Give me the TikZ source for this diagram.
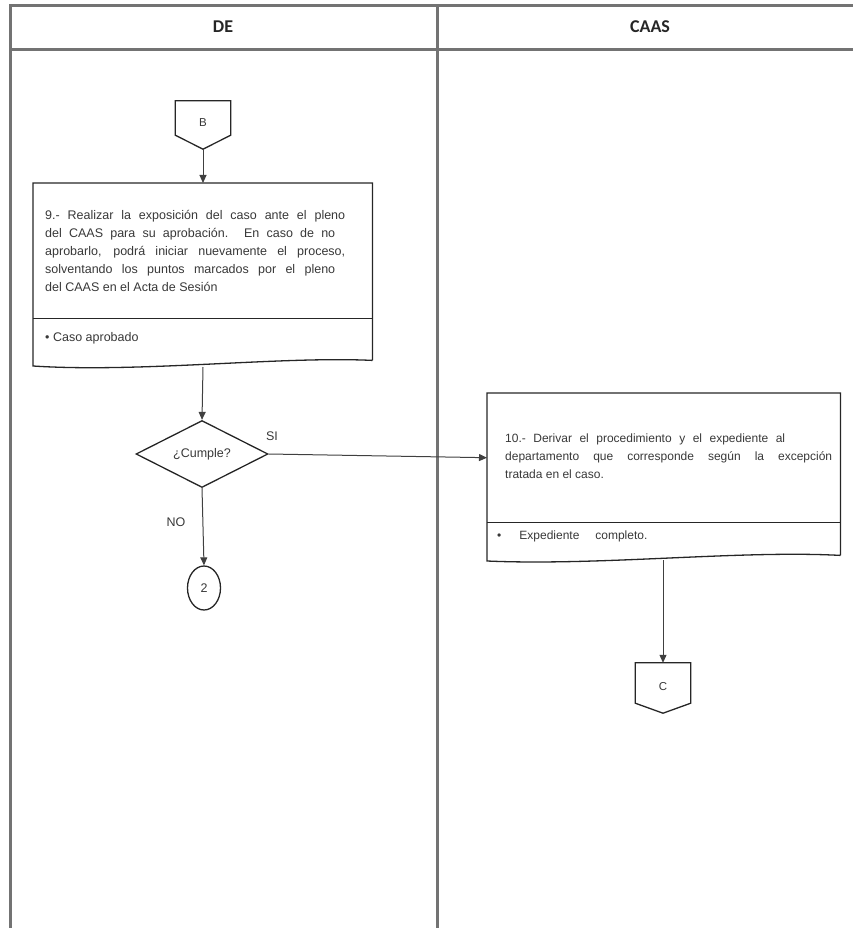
\documentclass[tikz,border=0pt]{standalone}
\usepackage{fontspec}
\setmainfont{Liberation Sans}
\newfontfamily\headfont{Carlito}
\usetikzlibrary{shapes.geometric,arrows.meta}

% one justified line of a given width
\newcommand{\jline}[2]{\makebox[#1][s]{#2}}

\begin{document}
\begin{tikzpicture}[x=1pt,y=-1pt,
  lane/.style={line width=3pt, draw=black!55},
  head/.style={font=\headfont\bfseries\fontsize{18}{20}\selectfont, text=black!85},
  txt/.style={font=\fontsize{12}{18}\selectfont, text=black!78, inner sep=0},
  bigtxt/.style={font=\fontsize{12.5}{18}\selectfont, text=black!78, inner sep=0},
  region/.style={draw=none, inner sep=0, anchor=north west},
  body/.style={align=left, anchor=west},
  shapeline/.style={draw=black!85, line width=1.3pt},
  conn/.style={font=\fontsize{11.5}{14}\selectfont, text=black!78, draw=none,
    minimum width=55, minimum height=48, inner sep=0},
  flow/.style={draw=black!75, line width=1pt, -{Triangle[length=8pt,width=7pt]}},
]
\useasboundingbox (0,0) rectangle (853,928);

% swimlane frame
\draw[lane] (853,5.5) -- (10.5,5.5) -- (10.5,928);
\draw[lane] (10.5,49.5) -- (853,49.5);
\draw[lane] (437,5.5) -- (437,928);
\node[head] (hde) at (223,27) {DE};
\node[head] (hcaas) at (650,27) {CAAS};

% off-page connector B
\node[conn] (B) at (203,125) {\raisebox{4pt}{B}};
\draw[shapeline] (B.north west) -- (B.north east) -- ([yshift=14pt]B.south east)
  -- (B.south) -- ([yshift=14pt]B.south west) -- cycle;

% step 9 (document shape)
\node[region, minimum width=339, minimum height=135] (s9) at (33,183) {};
\node[region, minimum width=339, minimum height=42] (s9b) at (33,318) {};
\draw[shapeline] (s9b.south east) -- (s9.north east) -- (s9.north west) -- (33,366)
  .. controls (140,373) and (280,356) .. (s9b.south east);
\draw[shapeline] (s9.south west) -- (s9.south east);
\node[bigtxt, body] (t9) at ([xshift=12pt]s9.west)
  {\jline{300pt}{9.- Realizar la exposición del caso ante el pleno}\\
   \jline{290pt}{del CAAS para su aprobación. En caso de no}\\
   \jline{300pt}{aprobarlo, podrá iniciar nuevamente el proceso,}\\
   \jline{290pt}{solventando los puntos marcados por el pleno}\\
   del CAAS en el Acta de Sesión};
\node[bigtxt, body] (t9b) at ([xshift=12pt,yshift=1pt]s9b.west) {• Caso aprobado};
\coordinate (s9out) at (203,367);

% decision
\node[diamond, shapeline, aspect=2, minimum width=132, minimum height=67, inner sep=0,
  bigtxt] (dec) at (202,454) {¿Cumple?};
\node[bigtxt] (si) at (272,436) {SI};
\node[bigtxt] (no) at (176,522) {NO};

% connector 2
\node[ellipse, shapeline, bigtxt, minimum width=33, minimum height=44, inner sep=0]
  (c2) at (204,588) {2};

% step 10 (document shape)
\node[region, minimum width=353, minimum height=129] (s10) at (487,393) {};
\node[region, minimum width=353, minimum height=33] (s10b) at (487,522) {};
\draw[shapeline] (s10b.south east) -- (s10.north east) -- (s10.north west) -- (487,561)
  .. controls (600,566) and (740,550) .. (s10b.south east);
\draw[shapeline] (s10.south west) -- (s10.south east);
\node[txt, body] (t10) at ([xshift=18pt,yshift=1pt]s10.west)
  {\jline{280pt}{10.- Derivar el procedimiento y el expediente al}\\
   \jline{327pt}{departamento que corresponde según la excepción}\\
   tratada en el caso.};
\node[txt, body] (t10b) at ([xshift=10pt,yshift=2pt]s10b.west)
  {•\hspace{18pt}\jline{128pt}{Expediente completo.}};
\coordinate (s10out) at (663,560);

% off-page connector C
\node[conn, minimum height=50] (C) at (663,688) {\raisebox{4pt}{C}};
\draw[shapeline] (C.north west) -- (C.north east) -- ([yshift=10pt]C.south east)
  -- (C.south) -- ([yshift=10pt]C.south west) -- cycle;

% flow
\draw[flow] (B.south) -- (s9.north -| B.south);
\draw[flow] (s9out) -- (dec.north);
\draw[flow] (dec.east) -- (s10.west);
\draw[flow] (dec.south) -- (c2.north);
\draw[flow] (s10out) -- (C.north);
\end{tikzpicture}
\end{document}
